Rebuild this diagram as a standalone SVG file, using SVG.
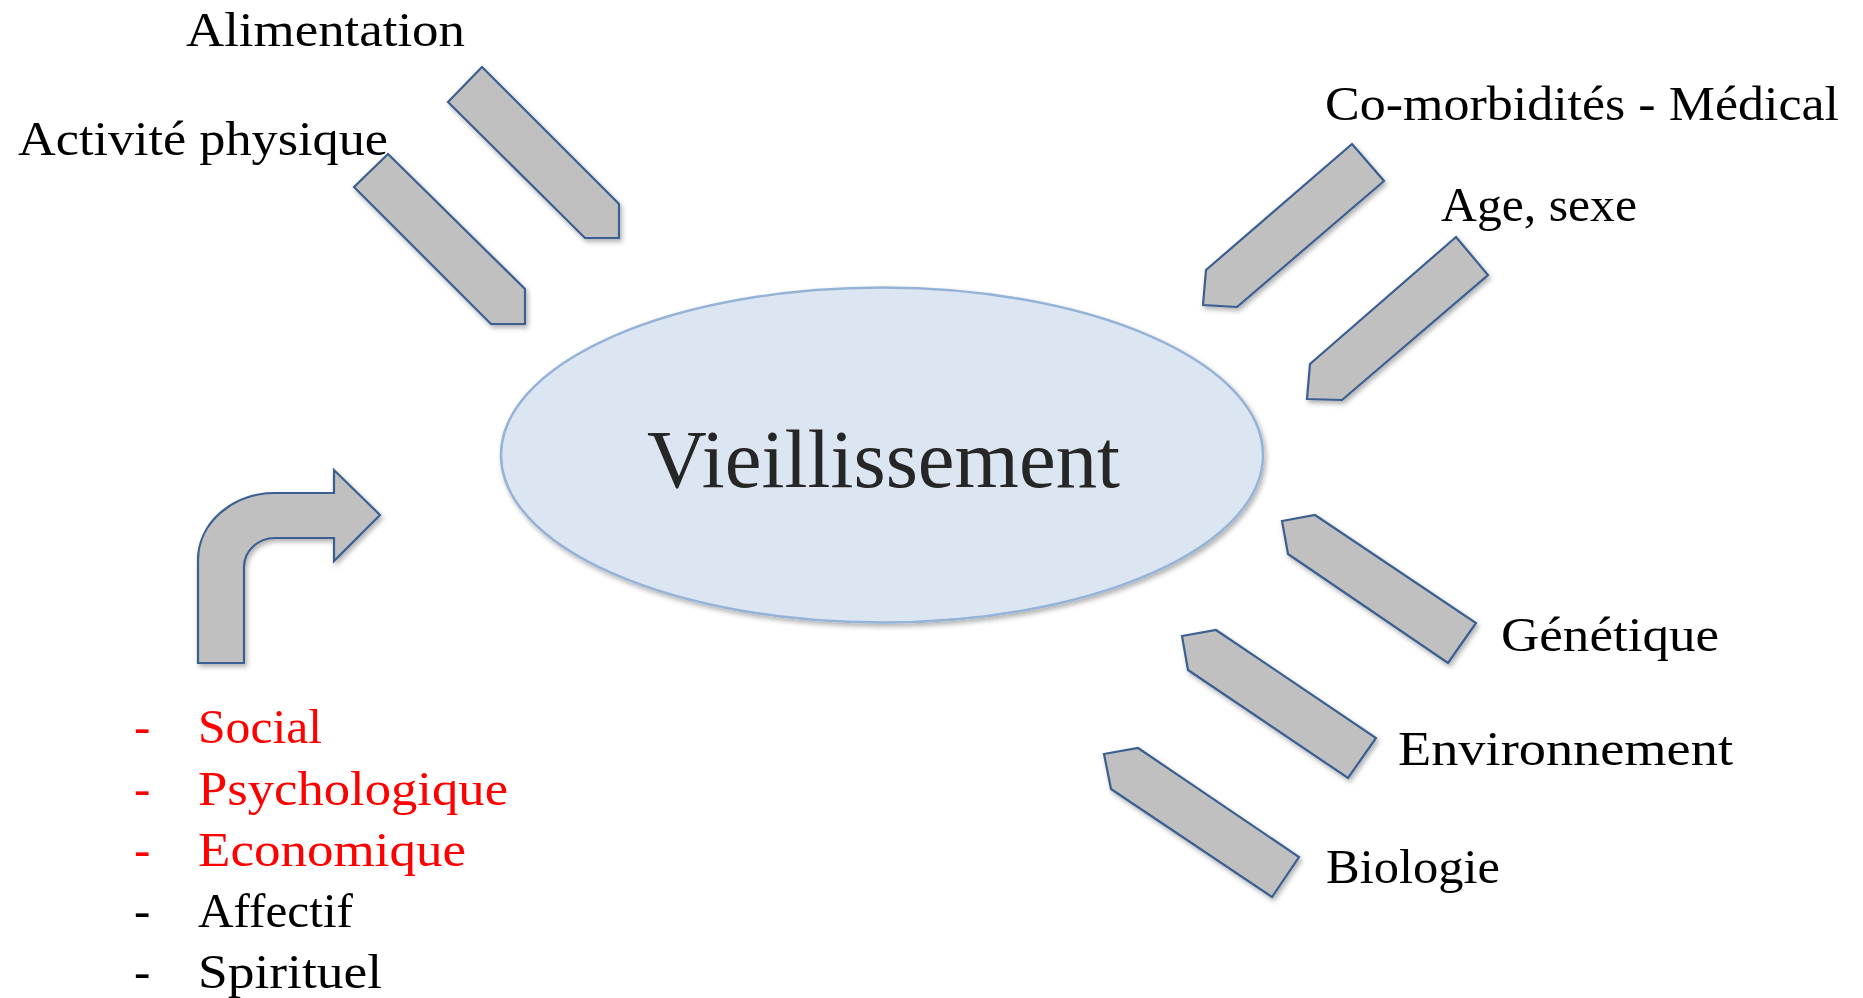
<svg xmlns="http://www.w3.org/2000/svg" width="1863" height="998" viewBox="0 0 1863 998">
<defs>
<filter id="sh" x="-20%" y="-20%" width="140%" height="140%">
<feDropShadow dx="2" dy="3" stdDeviation="2.5" flood-color="#000" flood-opacity="0.3"/>
</filter>
</defs>
<style>
.arr{fill:#C0C0C0;stroke:#3A5F91;stroke-width:2.2;stroke-linejoin:miter;filter:url(#sh)}
.lbl{font-family:"Liberation Serif","Times New Roman",serif;font-size:49px;fill:#000}
.red{fill:#FF0000}
</style>
<rect width="1863" height="998" fill="#fff"/>
<g id="center">
<ellipse cx="882" cy="455" rx="381" ry="167.5" fill="#DCE6F2" stroke="#95B3D7" stroke-width="2.5" filter="url(#sh)"/>
<text x="647" y="487" font-family="'Liberation Serif','Times New Roman',serif" font-size="82" fill="#262626" textLength="473" lengthAdjust="spacingAndGlyphs">Vieillissement</text>
</g>
<g id="connectors">
<polygon id="arr-alim" class="arr" points="482,67 448,102 585,238 619,238 619,204"/>
<polygon id="arr-activ" class="arr" points="388,154 354,187 491,324 525,324 525,289"/>
<polygon id="arr-comorb" class="arr" points="1352,144 1384,181 1237,307 1203,305 1206,270"/>
<polygon id="arr-age" class="arr" points="1456,237 1488,275 1342,400 1307,399 1310,364"/>
<polygon id="arr-gen" class="arr" points="1282,521 1315,515 1476,623 1448,663 1288,554"/>
<polygon id="arr-env" class="arr" points="1182,636 1216,630 1376,738 1348,778 1188,670"/>
<polygon id="arr-bio" class="arr" points="1104,754 1138,748 1299,857 1272,897 1111,789"/>
<path id="arr-bent" class="arr" d="M198,663 L198,560 A77,67 0 0 1 275,493 L334,493 L334,470 L380,515 L334,561 L334,538 L275,538 A31,29 0 0 0 244,567 L244,663 Z"/>
</g>
<g id="n-alimentation"><text class="lbl" x="186" y="46" textLength="279" lengthAdjust="spacingAndGlyphs">Alimentation</text></g>
<g id="n-activite"><text class="lbl" x="18" y="155" textLength="370" lengthAdjust="spacingAndGlyphs">Activité physique</text></g>
<g id="n-comorb"><text class="lbl" x="1325" y="120" textLength="514" lengthAdjust="spacingAndGlyphs">Co-morbidités - Médical</text></g>
<g id="n-age"><text class="lbl" x="1441" y="221" textLength="196" lengthAdjust="spacingAndGlyphs">Age, sexe</text></g>
<g id="n-genetique"><text class="lbl" x="1501" y="651" textLength="218" lengthAdjust="spacingAndGlyphs">Génétique</text></g>
<g id="n-environnement"><text class="lbl" x="1398" y="765" textLength="335" lengthAdjust="spacingAndGlyphs">Environnement</text></g>
<g id="n-biologie"><text class="lbl" x="1326" y="883" textLength="174" lengthAdjust="spacingAndGlyphs">Biologie</text></g>
<g id="n-list">
<text class="lbl red" x="134" y="743">-</text><text class="lbl red" x="198" y="743" textLength="124" lengthAdjust="spacingAndGlyphs">Social</text>
<text class="lbl red" x="134" y="805">-</text><text class="lbl red" x="198" y="805" textLength="310" lengthAdjust="spacingAndGlyphs">Psychologique</text>
<text class="lbl red" x="134" y="866">-</text><text class="lbl red" x="198" y="866" textLength="268" lengthAdjust="spacingAndGlyphs">Economique</text>
<text class="lbl" x="134" y="927">-</text><text class="lbl" x="198" y="927" textLength="155" lengthAdjust="spacingAndGlyphs">Affectif</text>
<text class="lbl" x="134" y="988">-</text><text class="lbl" x="198" y="988" textLength="184" lengthAdjust="spacingAndGlyphs">Spirituel</text>
</g>
</svg>
